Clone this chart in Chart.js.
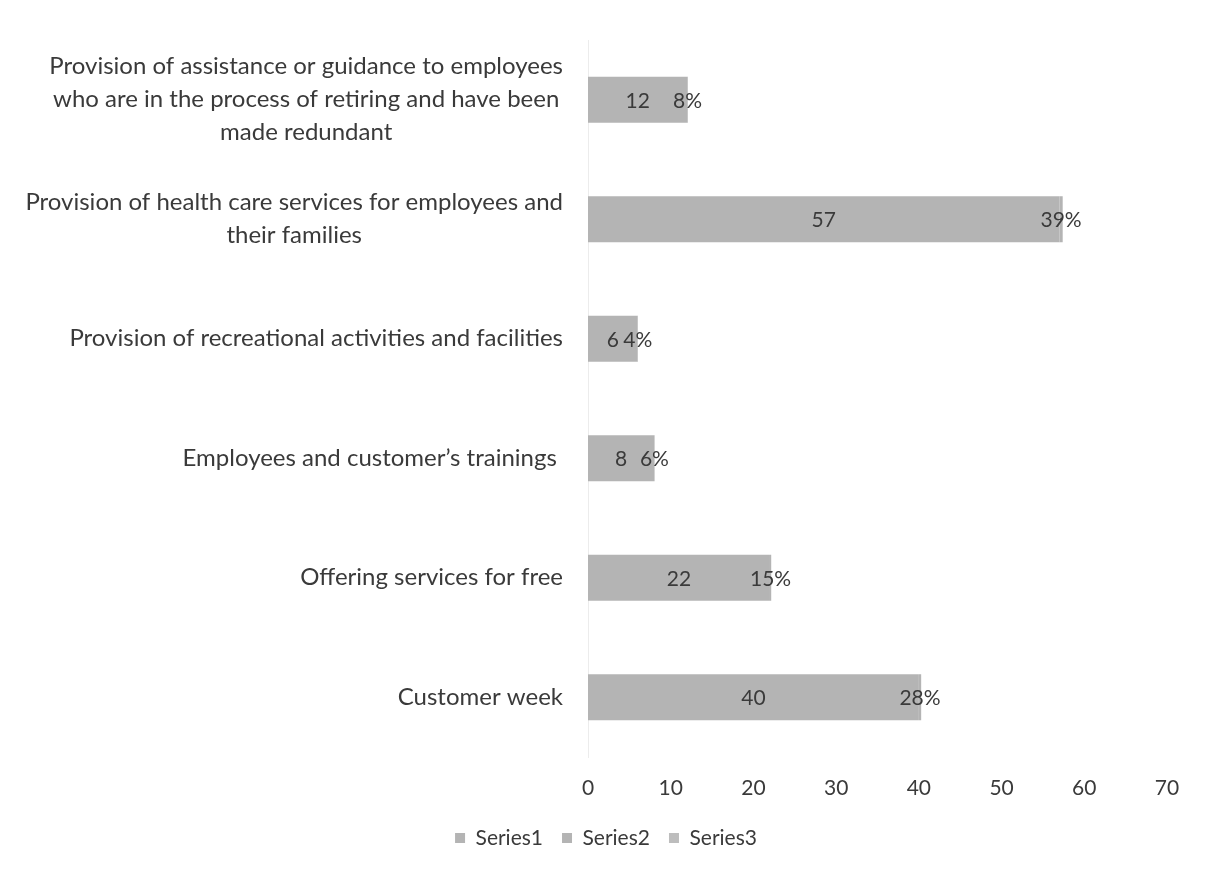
<!DOCTYPE html>
<html>
<head>
<meta charset="utf-8">
<script src="https://cdn.jsdelivr.net/npm/chart.js@4/dist/chart.umd.min.js"></script>
<style>
  html, body { margin: 0; padding: 0; background: #ffffff; }
  #wrap { width: 1212px; height: 870px; }
</style>
</head>
<body>
<div id="wrap"><canvas id="chart" width="1212" height="870"></canvas></div>
<script>
// Categories, listed top to bottom; nested arrays are wrapped label lines
const categories = [
  ["Provision of assistance or guidance to employees",
   "who are in the process of retiring and have been",
   "made redundant"],
  ["Provision of health care services for employees and",
   "their families"],
  "Provision of recreational activities and facilities",
  "Employees and customer\u2019s trainings ",
  "Offering services for free",
  "Customer week"
];

// Counts per activity
const series1 = [12, 57, 6, 8, 22, 40];
// Share of all responses (shown as percentages)
const series2 = [0.08, 0.39, 0.04, 0.06, 0.15, 0.28];
// Third series carries no values
const series3 = [null, null, null, null, null, null];

const seriesNames = ["Series1", "Series2", "Series3"];
const xMin = 0, xMax = 70, xStep = 10;

const FONT = "Lato, 'Open Sans', sans-serif";
const TEXT = "#3a3a3a";
const BAR = "#b4b4b4";

// Category labels: each block right-aligned to the axis, lines centred within the block
const categoryLabels = {
  id: "categoryLabels",
  afterDraw(chart) {
    const { ctx, scales: { y }, chartArea } = chart;
    const size = 24, lineH = 33;
    const right = chartArea.left - 25;
    ctx.save();
    ctx.font = size + "px " + FONT;
    ctx.fillStyle = TEXT;
    ctx.textBaseline = "middle";
    ctx.textAlign = "center";
    categories.forEach((cat, i) => {
      const lines = Array.isArray(cat) ? cat : [cat];
      const w = Math.max(...lines.map(l => ctx.measureText(l).width));
      const cx = right - w / 2;
      const cy = y.getPixelForValue(i);
      const y0 = cy - (lines.length - 1) * lineH / 2;
      lines.forEach((l, k) => ctx.fillText(l, cx, y0 + k * lineH));
    });
    ctx.restore();
  }
};

// Value labels centred on each segment
const valueLabels = {
  id: "valueLabels",
  afterDatasetsDraw(chart) {
    const { ctx } = chart;
    ctx.save();
    ctx.font = "21px " + FONT;
    ctx.fillStyle = TEXT;
    ctx.textAlign = "center";
    ctx.textBaseline = "middle";
    [0, 1].forEach(di => {
      const meta = chart.getDatasetMeta(di);
      const data = chart.data.datasets[di].data;
      meta.data.forEach((bar, i) => {
        const v = data[i];
        if (v === null || v === undefined) return;
        const p = bar.getCenterPoint();
        const txt = di === 0 ? String(v) : Math.round(v * 100) + "%";
        ctx.fillText(txt, p.x, p.y + 1);
      });
    });
    ctx.restore();
  }
};

new Chart(document.getElementById("chart"), {
  type: "bar",
  data: {
    labels: categories,
    datasets: [
      { label: seriesNames[0], data: series1, backgroundColor: BAR },
      { label: seriesNames[1], data: series2, backgroundColor: BAR },
      { label: seriesNames[2], data: series3, backgroundColor: "#bdbdbd" }
    ]
  },
  options: {
    indexAxis: "y",
    responsive: false,
    animation: false,
    devicePixelRatio: 1,
    layout: { padding: { left: 45, right: 45, top: 40, bottom: 11.5 } },
    datasets: { bar: { barPercentage: 0.385, categoryPercentage: 1 } },
    scales: {
      x: {
        stacked: true,
        min: xMin, max: xMax,
        grid: { display: false },
        border: { display: false },
        ticks: { stepSize: xStep, padding: 11, color: TEXT, font: { family: FONT, size: 21 } },
        afterFit(scale) { scale.height = 51.5; }
      },
      y: {
        stacked: true,
        grid: { display: false },
        border: { display: true, color: "#ececec", width: 1 },
        ticks: { display: false },
        afterFit(scale) { scale.width = 543; }
      }
    },
    plugins: {
      legend: {
        position: "bottom",
        labels: {
          boxWidth: 10, boxHeight: 10, padding: 19,
          color: TEXT, font: { family: FONT, size: 21 }
        }
      },
      tooltip: { enabled: false }
    }
  },
  plugins: [categoryLabels, valueLabels]
});
</script>
</body>
</html>
